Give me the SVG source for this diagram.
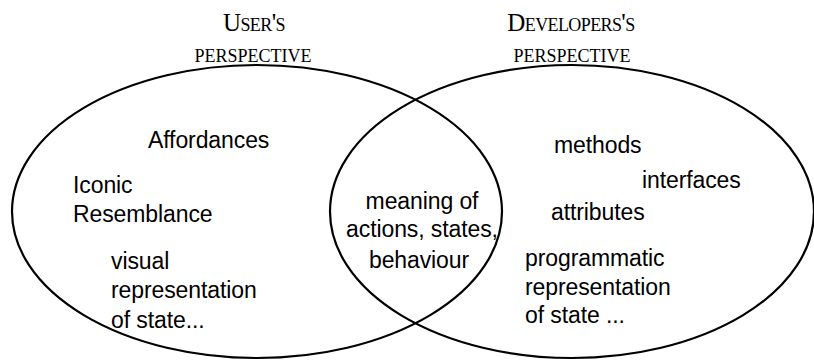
<svg xmlns="http://www.w3.org/2000/svg" width="814" height="360" viewBox="0 0 814 360">
<style>
.shape{fill:none;stroke:#000;stroke-width:2.2}
.lbl{font-family:"Liberation Sans",Arial,sans-serif;font-size:23px;fill:#000;letter-spacing:-0.1px}
.hdr{font-family:"Liberation Serif","Times New Roman",serif;font-size:25px;font-variant:small-caps;fill:#000;text-anchor:middle}
.hdr1{letter-spacing:-0.6px}
.hdr2{font-size:26px}
</style>
<rect width="814" height="360" fill="#fff"/>
<g id="connectors"></g>
<g id="user-perspective">
<ellipse class="shape" cx="257" cy="211.5" rx="245" ry="146.5"/>
<text class="hdr hdr1" x="254" y="31">User's</text>
<text class="hdr hdr2" x="253" y="62">perspective</text>
<text class="lbl" x="148" y="148">Affordances</text>
<text class="lbl" x="73" y="193">Iconic</text>
<text class="lbl" x="73" y="222">Resemblance</text>
<text class="lbl" x="111" y="269">visual</text>
<text class="lbl" x="111" y="298">representation</text>
<text class="lbl" x="111" y="328">of state...</text>
</g>
<g id="developer-perspective">
<ellipse class="shape" cx="572" cy="211.5" rx="242" ry="146.5"/>
<text class="hdr hdr1" x="571" y="31">Developers's</text>
<text class="hdr hdr2" x="572" y="62">perspective</text>
<text class="lbl" x="554" y="153">methods</text>
<text class="lbl" x="642" y="188">interfaces</text>
<text class="lbl" x="551" y="220">attributes</text>
<text class="lbl" x="525" y="266">programmatic</text>
<text class="lbl" x="525" y="295">representation</text>
<text class="lbl" x="525" y="323">of state ...</text>
</g>
<g id="shared" text-anchor="middle">
<text class="lbl" x="422" y="209">meaning of</text>
<text class="lbl" x="422" y="237">actions, states,</text>
<text class="lbl" x="419" y="268">behaviour</text>
</g>
</svg>
